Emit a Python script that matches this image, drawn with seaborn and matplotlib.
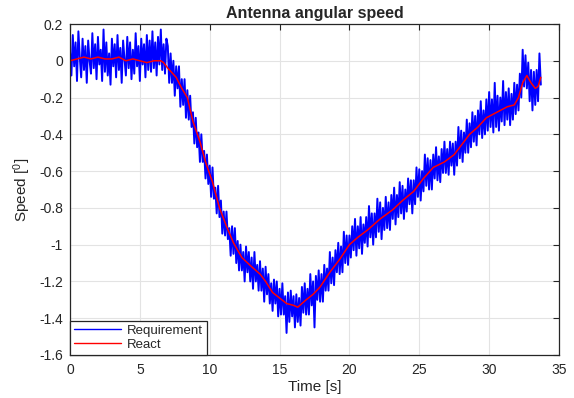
import numpy as np
import pandas as pd
import matplotlib
matplotlib.use("Agg")
import matplotlib.pyplot as plt
import seaborn as sns

# ---- data ----
req_values = [
    0.05, -0.08, 0.14, -0.03, 0.10, -0.11, 0.16, 0.02, -0.09, 0.12,
    -0.05, 0.08, -0.12, 0.11, 0.00, -0.07, 0.15, -0.04, 0.09, -0.10,
    0.13, -0.02, 0.06, -0.11, 0.17, -0.06, 0.10, -0.08, 0.04, -0.13,
    0.12, -0.03, 0.09, -0.09, 0.14, -0.05, 0.07, -0.12, 0.11, 0.01,
    -0.08, 0.13, -0.04, 0.10, -0.10, 0.06, -0.07, 0.15, -0.03, 0.08,
    -0.11, 0.12, -0.02, 0.09, -0.09, 0.14, -0.05, 0.11, -0.06, 0.16,
    -0.04, 0.10, -0.08, 0.13, -0.02, 0.17, -0.05, 0.09, -0.07, 0.12,
    # 7.0 - 7.9
    0.08, -0.12, 0.04, -0.12, 0.00, -0.19, -0.03, -0.15, -0.03, -0.25,
    # 8.0 - 8.9
    -0.10, -0.24, -0.10, -0.31, -0.16, -0.32, -0.19, -0.36, -0.28, -0.45,
    # 9.0 - 9.9
    -0.31, -0.47, -0.39, -0.55, -0.40, -0.55, -0.49, -0.64, -0.51, -0.67,
    # 10.0 - 10.9
    -0.57, -0.74, -0.58, -0.75, -0.69, -0.83, -0.68, -0.85, -0.76, -0.94,
    # 11.0 - 11.9
    -0.82, -0.95, -0.82, -0.97, -0.91, -1.06, -0.90, -1.05, -0.91, -1.10,
    # 12.0 - 12.9
    -0.98, -1.14, -1.00, -1.14, -1.04, -1.20, -1.01, -1.15, -1.04, -1.20,
    # 13.0 - 13.9
    -1.07, -1.24, -1.04, -1.20, -1.11, -1.25, -1.09, -1.25, -1.13, -1.31,
    # 14.0 - 14.9
    -1.12, -1.27, -1.16, -1.32, -1.21, -1.36, -1.19, -1.32, -1.20, -1.39,
    # 15.0 - 15.9
    -1.24, -1.38, -1.21, -1.38, -1.28, -1.48, -1.26, -1.42, -1.25, -1.39,
    # 16.0 - 16.9
    -1.28, -1.45, -1.27, -1.42, -1.29, -1.44, -1.23, -1.37, -1.21, -1.38,
    # 17.0 - 17.9
    -1.24, -1.38, -1.16, -1.33, -1.20, -1.45, -1.17, -1.30, -1.14, -1.31,
    # 18.0 - 18.9
    -1.16, -1.31, -1.11, -1.25, -1.13, -1.25, -1.04, -1.21, -1.07, -1.22,
    # 19.0 - 19.9
    -1.03, -1.15, -0.99, -1.16, -1.01, -1.15, -0.93, -1.10, -0.95, -1.11,
    # 20.0 - 20.9
    -0.95, -1.07, -0.90, -1.03, -0.86, -1.06, -0.90, -1.02, -0.85, -1.05,
    # 21.0 - 21.9
    -0.89, -0.99, -0.85, -1.01, -0.79, -0.96, -0.83, -1.00, -0.83, -0.96,
    # 22.0 - 22.9
    -0.75, -0.93, -0.77, -0.97, -0.80, -0.92, -0.74, -0.91, -0.77, -0.92,
    # 23.0 - 23.9
    -0.73, -0.86, -0.69, -0.89, -0.73, -0.85, -0.66, -0.83, -0.68, -0.86,
    # 24.0 - 24.9
    -0.70, -0.82, -0.64, -0.78, -0.65, -0.83, -0.65, -0.78, -0.58, -0.74,
    # 25.0 - 25.9
    -0.59, -0.76, -0.60, -0.71, -0.51, -0.68, -0.53, -0.70, -0.54, -0.70,
    # 26.0 - 26.9
    -0.51, -0.64, -0.47, -0.65, -0.52, -0.66, -0.48, -0.61, -0.44, -0.61,
    # 27.0 - 27.9
    -0.48, -0.62, -0.44, -0.57, -0.45, -0.62, -0.44, -0.57, -0.36, -0.53,
    # 28.0 - 28.9
    -0.38, -0.55, -0.39, -0.50, -0.32, -0.50, -0.34, -0.47, -0.28, -0.44,
    # 29.0 - 29.9
    -0.30, -0.46, -0.27, -0.40, -0.22, -0.42, -0.27, -0.40, -0.21, -0.38,
    # 30.0 - 30.9
    -0.17, -0.36, -0.21, -0.39, -0.12, -0.36, -0.19, -0.38, -0.20, -0.33,
    # 31.0 - 31.9
    -0.11, -0.35, -0.17, -0.32, -0.15, -0.35, -0.18, -0.32, -0.12, -0.29,
    # 32.0 - 32.9
    -0.13, -0.27, -0.07, -0.20, 0.06, -0.14, 0.03, -0.15, -0.01, -0.22,
    # 33.0 - 33.7
    -0.05, -0.27, -0.06, -0.24, -0.05, -0.22, 0.04, -0.13,
]
req_time = np.round(np.arange(len(req_values)) * 0.1, 1)

react_time = [0, 0.5, 1, 1.5, 2, 2.5, 3, 3.5, 4, 4.5, 5, 5.5, 6, 6.5,
              6.7, 7.0, 7.6, 8.0, 8.4, 8.8, 9.3, 9.7, 10.2, 10.7,
              11.2, 11.7, 12.3, 13.0, 13.6, 14.0, 14.5, 15.0, 15.5, 16.0,
              16.3, 16.6, 16.9, 17.4, 17.9, 18.6, 19.3, 20.0, 20.6, 21.3,
              22.2, 23.1, 23.8, 24.6, 25.3, 26.0, 26.8, 27.5, 28.0, 28.6,
              29.2, 29.8, 30.3, 30.8, 31.3, 31.8, 32.1, 32.4, 32.7, 33.0,
              33.3, 33.5, 33.7]
react_values = [0.00, 0.01, 0.02, 0.01, 0.02, 0.01, 0.01, 0.02, 0.00, 0.01, 0.00, -0.01, 0.00, 0.00,
                -0.01, -0.04, -0.09, -0.15, -0.20, -0.33, -0.44, -0.55, -0.66, -0.80,
                -0.90, -0.99, -1.07, -1.12, -1.16, -1.20, -1.26, -1.29, -1.32, -1.33,
                -1.34, -1.32, -1.30, -1.27, -1.23, -1.15, -1.08, -1.00, -0.96, -0.92,
                -0.86, -0.81, -0.76, -0.71, -0.64, -0.58, -0.55, -0.51, -0.46, -0.40,
                -0.36, -0.31, -0.29, -0.27, -0.25, -0.24, -0.20, -0.12, -0.08, -0.12,
                -0.15, -0.14, -0.09]

x_ticks = [0, 5, 10, 15, 20, 25, 30, 35]
y_ticks = [-1.6, -1.4, -1.2, -1, -0.8, -0.6, -0.4, -0.2, 0, 0.2]
y_tick_labels = ["-1.6", "-1.4", "-1.2", "-1", "-0.8", "-0.6", "-0.4", "-0.2", "0", "0.2"]

# ---- plotting ----
sns.set_style("whitegrid")
plt.rcParams["font.family"] = ["Liberation Sans", "DejaVu Sans"]

fig = plt.figure(figsize=(5.74, 3.98), dpi=100)
ax = fig.add_axes([70 / 574, 43 / 398, 489 / 574, 331 / 398])

df_req = pd.DataFrame({"t": req_time, "v": req_values})
df_react = pd.DataFrame({"t": react_time, "v": react_values})

sns.lineplot(data=df_req, x="t", y="v", ax=ax, color=(0, 0, 1), lw=1.4,
             sort=False, estimator=None, label="Requirement")
sns.lineplot(data=df_react, x="t", y="v", ax=ax, color=(1, 0, 0), lw=1.1,
             sort=False, estimator=None, label="React")

ax.set_xlim(0, 35)
ax.set_ylim(-1.6, 0.2)
ax.set_xticks(x_ticks)
ax.set_yticks(y_ticks)
ax.set_yticklabels(y_tick_labels)
ax.grid(True, color="#e3e3e3", lw=0.8)
for s in ax.spines.values():
    s.set_color("#262626")
    s.set_linewidth(0.9)
ax.tick_params(direction="in", length=4, width=0.8, top=True, right=True,
               labelsize=10, colors="#262626", labelcolor="#262626", pad=5)
ax.tick_params(axis="x", pad=6)

ax.set_title("Antenna angular speed", fontsize=11.5, fontweight="bold", pad=4)
ax.set_xlabel("Time [s]", fontsize=11, color="#262626", labelpad=2)
ax.set_ylabel(r"Speed [$\mathregular{^0}$]", fontsize=11, color="#262626", labelpad=4)

leg = ax.legend(loc="lower left", borderaxespad=0, fontsize=9.5, frameon=True,
                fancybox=False, handlelength=3.6, borderpad=0.3, labelspacing=0.15,
                handletextpad=0.4)
for line in leg.get_lines():
    line.set_linewidth(1.0)
leg.get_frame().set_edgecolor("#262626")
leg.get_frame().set_linewidth(0.9)
leg.get_frame().set_alpha(1)

fig.savefig("out.png", dpi=100)
